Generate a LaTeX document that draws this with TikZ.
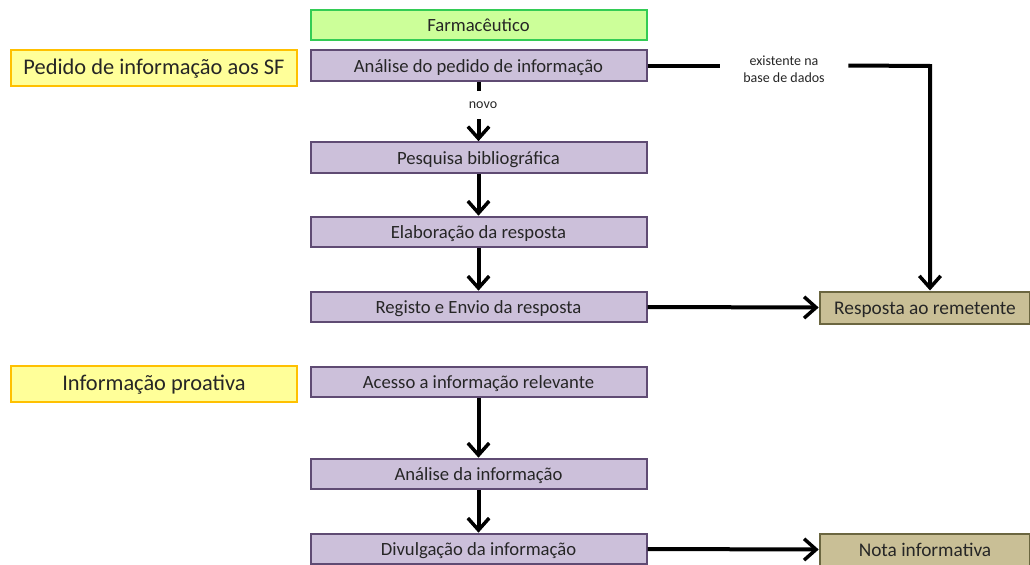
\documentclass[tikz,border=0pt]{standalone}
\usepackage{fontspec}
\setmainfont{Carlito}
\usetikzlibrary{arrows.meta}
\definecolor{pfill}{HTML}{CCC0DA}
\definecolor{pdraw}{HTML}{5F4B73}
\definecolor{gfill}{HTML}{CCFF99}
\definecolor{gdraw}{HTML}{33CC55}
\definecolor{yfill}{HTML}{FFFF99}
\definecolor{ydraw}{HTML}{FFC000}
\definecolor{tfill}{HTML}{C9BF96}
\definecolor{tdraw}{HTML}{6B6640}
\tikzset{
  boxtext/.style={inner sep=0pt, text height=1.2em, text depth=0.2em, text=black!85},
  proc/.style={boxtext, draw=pdraw, fill=pfill, line width=1.5pt, minimum width=252pt, minimum height=23pt, font=\fontsize{14}{16}\selectfont},
  head/.style={boxtext, draw=gdraw, fill=gfill, line width=1.5pt, minimum width=252pt, minimum height=23pt, font=\fontsize{14}{16}\selectfont},
  cat/.style={boxtext, draw=ydraw, fill=yfill, line width=1.5pt, minimum width=215pt, minimum height=27pt, font=\fontsize{16.8}{19}\selectfont},
  resbox/.style={boxtext, draw=tdraw, fill=tfill, line width=1.5pt, minimum width=158pt, minimum height=24pt, font=\fontsize{14.5}{17}\selectfont},
  lbl/.style={inner sep=0pt, align=center, font=\fontsize{10.5}{13}\selectfont, text=black!85},
  conn/.style={line width=3pt},
  arr/.style={line width=3pt, -{Straight Barb[length=9pt, width=16pt, line width=2.6pt]}},
}
\begin{document}
\begin{tikzpicture}[x=0.75pt, y=-0.75pt]
\useasboundingbox (0,0) rectangle (1030,564);
\node[head] (farm) at (478.5,25) {Farmacêutico};
\node[proc] (ana) at (478.5,65.5) {Análise do pedido de informação};
\node[cat] (ped) at (154,67.5) {Pedido de informação aos SF};
\node[proc] (pes) at (478.5,157.5) {Pesquisa bibliográfica};
\node[proc] (ela) at (478.5,232) {Elaboração da resposta};
\node[proc] (reg) at (478.5,307) {Registo e Envio da resposta};
\node[resbox] (resp) at (925,307.5) {Resposta ao remetente};
\node[cat] (pro) at (154,384) {Informação proativa};
\node[proc] (ace) at (478.5,382) {Acesso a informação relevante};
\node[proc] (ani) at (478.5,474) {Análise da informação};
\node[proc] (div) at (478.5,549) {Divulgação da informação};
\node[resbox] (nota) at (925,549.5) {Nota informativa};
\node[lbl, minimum width=96pt] (exist) at (784,69) {existente na\\base de dados};
\node[lbl, minimum height=21pt] (novo) at (483,105) {novo};
\coordinate (corner) at (930,66);
\draw[conn] (ana.east) -- (exist.west |- ana.east);
\draw[arr] (exist.east |- ana.east) -- (corner) -- (resp.north -| corner);
\draw[conn] (ana.south) -- (novo.north -| ana.south);
\draw[arr] (novo.south -| ana.south) -- (pes.north);
\draw[arr] (pes.south) -- (ela.north);
\draw[arr] (ela.south) -- (reg.north);
\draw[arr] (reg.east) -- (resp.west);
\draw[arr] (ace.south) -- (ani.north);
\draw[arr] (ani.south) -- (div.north);
\draw[arr] (div.east) -- (nota.west);
\end{tikzpicture}
\end{document}
